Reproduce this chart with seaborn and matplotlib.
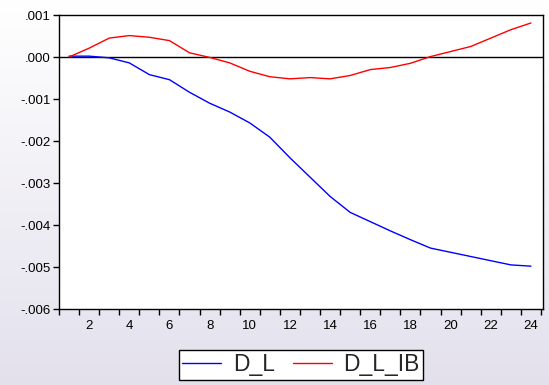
import numpy as np
import pandas as pd
import matplotlib
matplotlib.use("Agg")
import matplotlib.pyplot as plt
import seaborn as sns
from matplotlib.ticker import FuncFormatter, FixedLocator

periods = list(range(1, 25))
d_l = [0.00002, 0.00002, -0.00002, -0.00014, -0.00042, -0.00054, -0.00084, -0.0011,
       -0.00131, -0.00157, -0.00191, -0.0024, -0.00286, -0.00332, -0.0037, -0.00392,
       -0.00414, -0.00435, -0.00455, -0.00465, -0.00475, -0.00485, -0.00495, -0.00498]
d_l_ib = [0.0, 0.00021, 0.00045, 0.00051, 0.00047, 0.00039, 0.0001, -0.00001,
          -0.00014, -0.00034, -0.00047, -0.00052, -0.00049, -0.00052, -0.00044, -0.0003,
          -0.00025, -0.00015, 0.00001, 0.00013, 0.00025, 0.00045, 0.00065, 0.00081]
series_names = ["D_L", "D_L_IB"]
y_ticks = [0.001, 0.0, -0.001, -0.002, -0.003, -0.004, -0.005, -0.006]
x_labels = [2, 4, 6, 8, 10, 12, 14, 16, 18, 20, 22, 24]

df = pd.DataFrame({
    "period": periods * 2,
    "value": d_l + d_l_ib,
    "series": [series_names[0]] * len(periods) + [series_names[1]] * len(periods),
})

sns.set_style("white")
plt.rcParams['font.family'] = ['Liberation Sans', 'DejaVu Sans']

fig = plt.figure(figsize=(5.49, 3.85), dpi=100)
# gradient background
bg = fig.add_axes([0, 0, 1, 1], zorder=-10)
grad = np.linspace(0, 1, 256).reshape(-1, 1)
c_top = np.array([1.0, 1.0, 1.0])
c_bot = np.array([0.89, 0.88, 0.925])
img = c_top[None, None, :] * (1 - grad[:, :, None]) + c_bot[None, None, :] * grad[:, :, None]
bg.imshow(img, aspect='auto', extent=[0, 1, 0, 1], origin='upper')
bg.axis('off')

ax = fig.add_axes([59/549, 1 - 309/385, (543 - 59)/549, (309 - 15)/385])
ax.set_facecolor('white')
sns.lineplot(data=df, x="period", y="value", hue="series",
             palette={"D_L": "#0000ff", "D_L_IB": "#ff0000"},
             linewidth=1.0, ax=ax, legend=True)
ax.axhline(0, color='black', linewidth=1.0, zorder=1)

ax.set_xlim(0.5, 24.6)
ax.set_ylim(-0.006, 0.001)
ax.set_yticks(y_ticks)
ax.yaxis.set_major_formatter(FuncFormatter(
    lambda v, p: ("-" if v < -1e-12 else "") + ("%.3f" % abs(v))[1:]))
ax.set_xticks(x_labels)
ax.set_xticklabels([str(v) for v in x_labels])
ax.xaxis.set_minor_locator(FixedLocator(np.arange(0.5, 25, 1.0)))
ax.tick_params(axis='x', which='major', length=0, labelsize=9.5, pad=8, colors='black')
ax.tick_params(axis='x', which='minor', length=4, width=1, direction='out', bottom=True, color='black')
ax.tick_params(axis='y', which='major', length=4, width=1, direction='out', left=True,
               labelsize=9.5, pad=2, colors='black')
ax.set_xlabel("")
ax.set_ylabel("")
for s in ax.spines.values():
    s.set_visible(True)
    s.set_color('black')
    s.set_linewidth(1.0)

leg = ax.legend(loc='upper center', bbox_to_anchor=(0.5, -0.10), ncol=2,
                fontsize=16.5, frameon=True, fancybox=False, shadow=False,
                handlelength=1.7, borderpad=0.15, columnspacing=0.8, handletextpad=0.5)
leg.get_frame().set_edgecolor('black')
leg.get_frame().set_linewidth(1.0)
leg.get_frame().set_facecolor('white')
leg.get_frame().set_alpha(1.0)

fig.savefig("out.png", dpi=100)
